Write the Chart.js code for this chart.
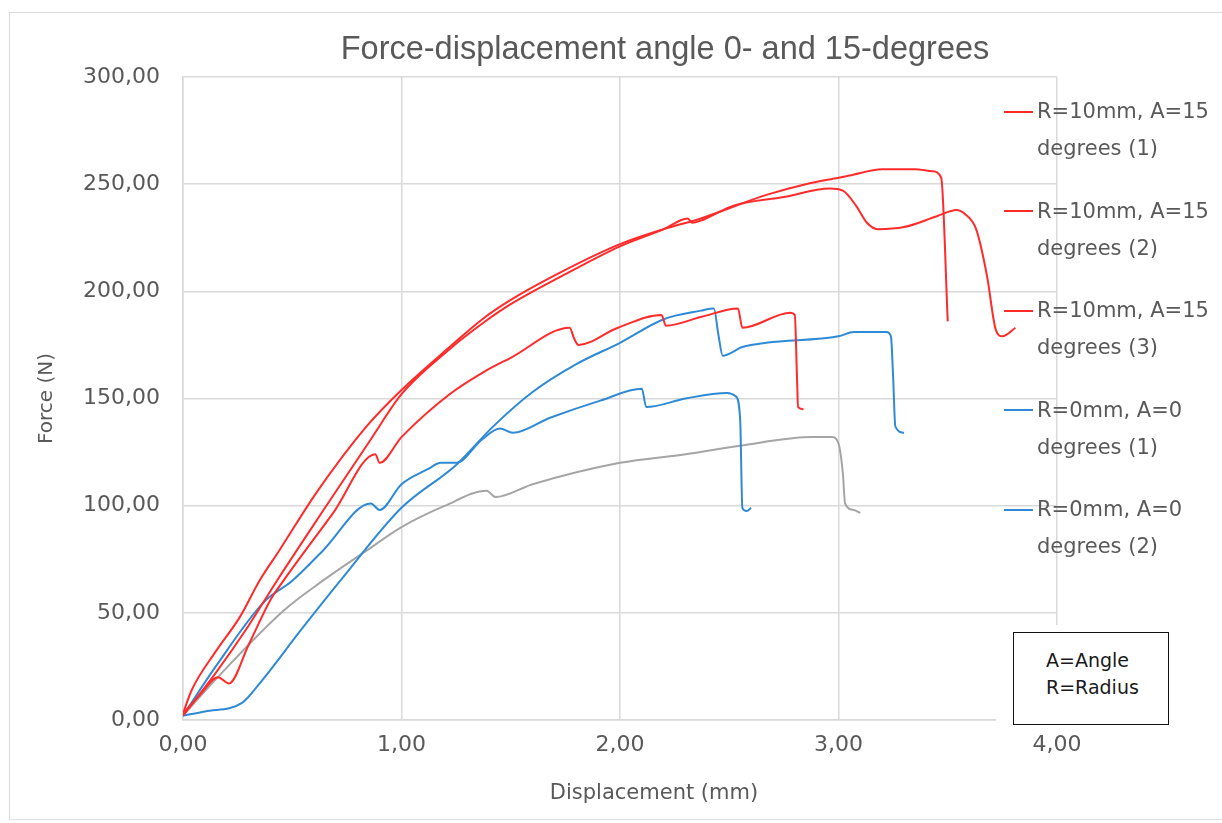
<!DOCTYPE html>
<html>
<head>
<meta charset="utf-8">
<script src="https://cdn.jsdelivr.net/npm/chart.js@4.4.1/dist/chart.umd.min.js"></script>
<style>
  html, body { margin: 0; padding: 0; background: #ffffff; }
  #wrap { position: relative; width: 1222px; height: 823px; overflow: hidden; background: #fff; }
  #c { position: absolute; left: 0; top: 0; }
  .frame { position: absolute; left: 9px; top: 12px; width: 1300px; height: 806px;
           border-left: 1.5px solid #dadada; border-top: 1.5px solid #dadada; border-bottom: 1.5px solid #e2e2e2; }
  #title { position: absolute; left: 0; width: 1330px; top: 31px; text-align: center; white-space: nowrap;
           font-family: "Liberation Sans", "Open Sans", sans-serif; font-size: 32.5px; line-height: 35px; color: #595959; }
  #xtitle { position: absolute; left: 0; width: 1308px; top: 779px; text-align: center; white-space: nowrap;
           font-family: "DejaVu Sans", sans-serif; font-size: 21px; line-height: 26px; color: #595959; }
  .lg { position: absolute; left: 1037px; font-family: "DejaVu Sans", sans-serif; font-size: 21px;
        line-height: 37px; color: #595959; white-space: nowrap; }
  .sw { position: absolute; left: 1004px; width: 29px; height: 2px; }
  #mask { position: absolute; left: 996px; top: 625px; width: 200px; height: 106px; background: #fff; }
  #box { position: absolute; left: 1013px; top: 632px; width: 154px; height: 91px; border: 1.6px solid #111;
         background: #fff; box-sizing: content-box; padding: 0;
         font-family: "DejaVu Sans", sans-serif; font-size: 19px; line-height: 27px; color: #1a1a1a; }
  #box div { padding-left: 32px; }
</style>
</head>
<body>
<div id="wrap">
  <div class="frame"></div>
  <canvas id="c" width="1222" height="823"></canvas>
  <div id="title"></div>
  <div id="xtitle"></div>
  <div id="legend"></div>
  <div id="mask"></div>
  <div id="box"><div style="height:14px;padding:0"></div><div>A=Angle</div><div>R=Radius</div></div>
</div>
<script>
// ---- texts ----
const chartTitle = "Force-displacement angle 0- and 15-degrees";
const xAxisTitle = "Displacement (mm)";
const yAxisTitle = "Force (N)";
const xTicks = [0, 1, 2, 3, 4];
const yTicks = [0, 50, 100, 150, 200, 250, 300];

// ---- series labels / colours ----
const seriesLabels = [
  ["R=10mm, A=15", "degrees (1)"],
  ["R=10mm, A=15", "degrees (2)"],
  ["R=10mm, A=15", "degrees (3)"],
  ["R=0mm, A=0", "degrees (1)"],
  ["R=0mm, A=0", "degrees (2)"],
  ["R=0mm, A=0", "degrees (3)"]
];
const seriesColors = ["#ff2b2b", "#ff2b2b", "#ff2b2b", "#2f8ad6", "#2f8ad6", "#a5a5a5"];
const legendShown = [true, true, true, true, true, false];

// ---- data (displacement mm, force N) ----
const r15a_x = [0, 0.04, 0.15, 0.26, 0.35, 0.44, 0.61, 0.84, 1.0, 1.22, 1.37, 1.5, 1.75, 2.0, 2.2, 2.37, 2.67, 2.85, 3.0, 3.05, 3.2, 3.35, 3.43, 3.47, 3.5];
const r15a_y = [3, 14, 32, 48, 65, 79, 106, 137, 154, 174, 187, 196, 210, 222, 229, 234, 245, 250, 253, 254, 257, 257, 256, 253, 186];

const r15b_x = [0, 0.15, 0.3, 0.43, 0.65, 0.86, 1.0, 1.22, 1.37, 1.5, 1.75, 2.0, 2.2, 2.31, 2.33, 2.37, 2.52, 2.75, 2.96, 3.02, 3.08, 3.13, 3.18, 3.3, 3.45, 3.54, 3.58, 3.63, 3.68, 3.72, 3.75, 3.81];
const r15b_y = [2, 22, 44, 65, 99, 131, 152, 173, 185, 194, 208, 221, 229, 234, 232, 233, 240, 244, 248, 247, 240, 232, 229, 230, 235, 238, 236, 229, 207, 182, 179, 183];

const r15c_x = [0, 0.08, 0.16, 0.21, 0.3, 0.4, 0.46, 0.69, 0.88, 0.9, 1.0, 1.22, 1.37, 1.5, 1.77, 1.79, 1.81, 1.99, 2.19, 2.21, 2.37, 2.54, 2.56, 2.78, 2.8, 2.81, 2.815, 2.84];
const r15c_y = [3, 12, 20, 17, 35, 56, 65, 97, 124, 120, 132, 152, 162, 169, 183, 178, 175, 183, 189, 184, 188, 192, 183, 190, 189, 160, 146, 145];

const r0a_x = [0, 0.1, 0.27, 0.35, 0.54, 0.72, 1.0, 1.25, 1.42, 1.6, 1.8, 2.0, 2.2, 2.37, 2.43, 2.45, 2.47, 2.56, 2.67, 3.0, 3.07, 3.22, 3.24, 3.25, 3.26, 3.3];
const r0a_y = [2, 4, 8, 17, 42, 65, 99, 119, 137, 153, 166, 176, 187, 191, 192, 180, 170, 174, 176, 179, 181, 181, 179, 160, 137, 134];

const r0b_x = [0, 0.15, 0.37, 0.5, 0.64, 0.86, 0.9, 1.0, 1.12, 1.18, 1.25, 1.37, 1.45, 1.51, 1.68, 1.91, 2.1, 2.12, 2.3, 2.49, 2.53, 2.55, 2.56, 2.58, 2.6];
const r0b_y = [2, 25, 55, 65, 79, 101, 98, 110, 117, 120, 120, 131, 136, 134, 141, 149, 154.5, 146, 150, 152.6, 151, 140, 99, 97.5, 99];

const r0c_x = [0, 0.15, 0.46, 0.64, 0.84, 1.0, 1.2, 1.39, 1.43, 1.6, 2.0, 2.3, 2.55, 2.88, 2.97, 3.0, 3.02, 3.03, 3.07, 3.1];
const r0c_y = [2, 19, 51, 65, 79, 90, 100, 107, 104, 110, 120, 124, 128, 132, 132, 129, 115, 101, 98, 96.6];

const seriesX = [r15a_x, r15b_x, r15c_x, r0a_x, r0b_x, r0c_x];
const seriesY = [r15a_y, r15b_y, r15c_y, r0a_y, r0b_y, r0c_y];

// ---- html texts ----
document.getElementById('title').textContent = chartTitle;
document.getElementById('xtitle').textContent = xAxisTitle;
const legendEl = document.getElementById('legend');
let entry = 0;
seriesLabels.forEach((lab, i) => {
  if (!legendShown[i]) return;
  const top = 93 + entry * 99.5;
  const t = document.createElement('div');
  t.className = 'lg';
  t.style.top = top + 'px';
  t.innerHTML = lab.join('<br>');
  legendEl.appendChild(t);
  const s = document.createElement('div');
  s.className = 'sw';
  s.style.top = (top + 17.5) + 'px';
  s.style.background = seriesColors[i];
  legendEl.appendChild(s);
  entry++;
});

const fmt = v => Number(v).toFixed(2).replace('.', ',');
const gridColor = '#d9d9d9';

const datasets = seriesX.map((xs, i) => ({
  label: seriesLabels[i].join(' '),
  data: xs.map((x, k) => ({ x: x, y: seriesY[i][k] })),
  borderColor: seriesColors[i],
  backgroundColor: seriesColors[i],
  borderWidth: 2,
  pointRadius: 0,
  showLine: true,
  fill: false,
  cubicInterpolationMode: 'monotone'
}));

new Chart(document.getElementById('c'), {
  type: 'scatter',
  data: { datasets },
  options: {
    responsive: false,
    animation: false,
    devicePixelRatio: 1,
    layout: { padding: { left: 0, top: 77, right: 165, bottom: 0 } },
    plugins: { legend: { display: false }, title: { display: false }, tooltip: { enabled: false } },
    scales: {
      x: {
        type: 'linear', min: xTicks[0], max: xTicks[xTicks.length - 1],
        afterFit: s => { s.height = 103; },
        afterBuildTicks: s => { s.ticks = xTicks.map(v => ({ value: v })); },
        ticks: { callback: fmt, padding: 12, color: '#595959', font: { family: 'DejaVu Sans', size: 22 }, maxRotation: 0 },
        grid: { color: gridColor, lineWidth: 1.5, drawTicks: false },
        border: { color: gridColor, width: 1.5 }
      },
      y: {
        type: 'linear', min: yTicks[0], max: yTicks[yTicks.length - 1],
        afterFit: s => { s.width = 183; },
        afterBuildTicks: s => { s.ticks = yTicks.map(v => ({ value: v })); },
        ticks: { callback: fmt, padding: 23, color: '#595959', font: { family: 'DejaVu Sans', size: 22 } },
        grid: { color: gridColor, lineWidth: 1.5, drawTicks: false },
        border: { color: gridColor, width: 1.5 },
        title: { display: true, text: yAxisTitle, color: '#595959', font: { family: 'DejaVu Sans', size: 20 }, padding: { top: 35, bottom: 0 } }
      }
    }
  }
});
</script>
</body>
</html>
